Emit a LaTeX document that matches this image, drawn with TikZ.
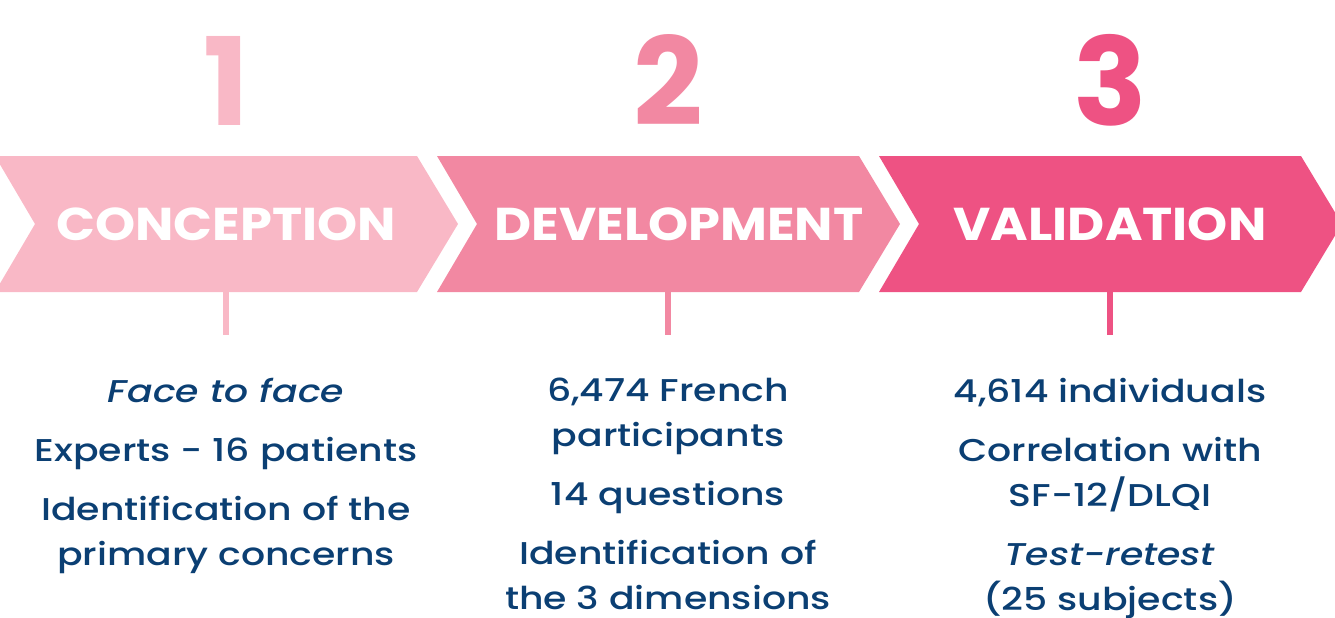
\documentclass[tikz,border=0pt]{standalone}
\usepackage{fontspec}
\setmainfont{Poppins}
\newfontfamily\bodyfont{Poppins Medium}[ItalicFont={Poppins Medium Italic}, FakeStretch=1.2]
\newfontfamily\stagefont{Poppins Bold}[FakeStretch=1.11]
\usetikzlibrary{positioning}
\definecolor{stepA}{HTML}{F9B8C6}
\definecolor{stepB}{HTML}{F288A2}
\definecolor{stepC}{HTML}{EE5283}
\definecolor{navy}{HTML}{0B3F73}

\begin{document}
\begin{tikzpicture}[x=1pt, y=-1pt,
  stage/.style={font=\stagefont\fontsize{46}{46}\selectfont, text=white, inner sep=0pt, anchor=base},
  bignum/.style={font=\fontsize{122}{122}\selectfont\bfseries, inner sep=0pt, anchor=base},
  info/.style={font=\bodyfont\fontsize{31.5}{45}\selectfont, text=navy, align=center, inner sep=0pt, anchor=north}]
\useasboundingbox (0,0) rectangle (1335,618);
\foreach \i/\x/\dx/\col/\name in {1/0/0/stepA/CONCEPTION, 2/442/11/stepB/DEVELOPMENT, 3/884/0/stepC/VALIDATION} {
  \fill[\col] (\x-5,156) -- ++(422,0) -- ++(41,68) -- ++(-41,68) -- ++(-422,0) -- ++(40,-68) -- cycle;
  \node[stage] (s\i) at (\x+226+\dx,240) {\name};
  \node[bignum, text=\col] (n\i) at (\x+226,125) {\i};
  \coordinate (c\i) at (\x+226,292);
  \coordinate (d\i) at (\x+226,335);
  \draw[\col, line width=6pt] (c\i) -- (d\i);
}
% details under each stage
\node[info] (t1) at (226,378) {\textit{Face to face}\\[14pt] Experts - 16 patients\\[14pt] Identification of the\\ primary concerns};
\node[info] (t2) at (668,378) {6,474 French\\ participants\\[14pt] 14 questions\\[14pt] Identification of\\ the 3 dimensions};
\node[info] (t3) at (1110,378) {4,614 individuals\\[14pt] Correlation with\\ SF-12/DLQI\\[14pt] \textit{Test-retest}\\ (25 subjects)};
\end{tikzpicture}
\end{document}
